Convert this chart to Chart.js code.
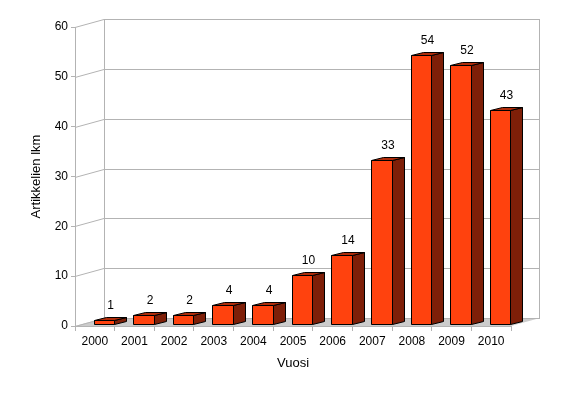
<!DOCTYPE html>
<html>
<head>
<meta charset="utf-8">
<script src="https://cdn.jsdelivr.net/npm/chart.js@4"></script>
<style>
    html, body { margin: 0; padding: 0; background: #fff; }
    #wrap { width: 563px; height: 396px; }
</style>
</head>
<body>
<div id="wrap"><canvas id="articleChart" width="563" height="396"></canvas></div>
<script>
const years = ['2000', '2001', '2002', '2003', '2004', '2005', '2006', '2007', '2008', '2009', '2010'];
const articles = [1, 2, 2, 4, 4, 10, 14, 33, 54, 52, 43];
const yMin = 0;
const yMax = 60;
const yStep = 10;

// depth of the 3d box (walls) and of the bars
const WALL_DX = 29, WALL_DY = -8;
const BAR_SHIFT_X = 9, BAR_SHIFT_Y = -1.5;
const BAR_DX = 12, BAR_DY = -3;
const GRID = '#b3b3b3';
const FONT = 'Liberation Sans, Arial, sans-serif';

function quad(ctx, pts, fill) {
    ctx.beginPath();
    ctx.moveTo(pts[0][0], pts[0][1]);
    for (let i = 1; i < pts.length; i++) ctx.lineTo(pts[i][0], pts[i][1]);
    ctx.closePath();
    ctx.fillStyle = fill;
    ctx.fill();
    ctx.stroke();
}

const box3d = {
    id: 'box3d',
    beforeDatasetsDraw(chart) {
        const { ctx, chartArea: a, scales } = chart;
        const y = scales.y;
        ctx.save();
        ctx.lineWidth = 1;

        // floor
        ctx.fillStyle = '#cccccc';
        ctx.beginPath();
        ctx.moveTo(a.left, a.bottom);
        ctx.lineTo(a.right, a.bottom);
        ctx.lineTo(a.right + WALL_DX, a.bottom + WALL_DY);
        ctx.lineTo(a.left + WALL_DX, a.bottom + WALL_DY);
        ctx.closePath();
        ctx.fill();

        ctx.strokeStyle = GRID;
        ctx.beginPath();
        // wall edges
        ctx.moveTo(a.left + WALL_DX + 0.5, a.top + WALL_DY);
        ctx.lineTo(a.left + WALL_DX + 0.5, a.bottom + WALL_DY);
        ctx.moveTo(a.right + WALL_DX - 0.5, a.top + WALL_DY);
        ctx.lineTo(a.right + WALL_DX - 0.5, a.bottom + WALL_DY);
        // grid on the side wall and back wall
        for (let v = yMin; v <= yMax; v += yStep) {
            const py = Math.round(y.getPixelForValue(v)) + 0.5;
            ctx.moveTo(a.left, py);
            ctx.lineTo(a.left + WALL_DX, py + WALL_DY);
            ctx.lineTo(a.right + WALL_DX, py + WALL_DY);
        }
        ctx.stroke();
        ctx.restore();
    },
    afterDatasetsDraw(chart) {
        const { ctx } = chart;
        const meta = chart.getDatasetMeta(0);
        ctx.save();
        ctx.lineWidth = 1;
        ctx.strokeStyle = '#000';
        ctx.lineJoin = 'miter';
        meta.data.forEach((bar, i) => {
            const x1 = Math.round(bar.x - bar.width / 2 + BAR_SHIFT_X) + 0.5;
            const x2 = Math.round(bar.x + bar.width / 2 + BAR_SHIFT_X) + 0.5;
            const top = Math.round(bar.y + BAR_SHIFT_Y) + 0.5;
            const base = Math.round(bar.base + BAR_SHIFT_Y) + 0.5;
            // side
            quad(ctx, [[x2, base], [x2, top], [x2 + BAR_DX, top + BAR_DY], [x2 + BAR_DX, base + BAR_DY]], '#7e1f08');
            // top
            quad(ctx, [[x1, top], [x2, top], [x2 + BAR_DX, top + BAR_DY], [x1 + BAR_DX, top + BAR_DY]], '#b02c0a');
            // front
            quad(ctx, [[x1, top], [x2, top], [x2, base], [x1, base]], '#ff420e');

            ctx.fillStyle = '#000';
            ctx.font = '12px ' + FONT;
            ctx.textAlign = 'center';
            ctx.textBaseline = 'middle';
            ctx.fillText(String(articles[i]), (x1 + x2 + BAR_DX) / 2, top - 15);
        });
        ctx.restore();
    }
};

const ctx = document.getElementById('articleChart').getContext('2d');
new Chart(ctx, {
    type: 'bar',
    data: {
        labels: years,
        datasets: [{
            label: 'Artikkelien lkm',
            data: articles,
            backgroundColor: 'rgba(0,0,0,0)',
            borderWidth: 0,
            categoryPercentage: 1,
            barPercentage: 0.52
        }]
    },
    options: {
        responsive: false,
        animation: false,
        layout: { padding: { left: 0, right: 52, top: 27, bottom: 0 } },
        plugins: {
            legend: { display: false },
            tooltip: { enabled: false }
        },
        scales: {
            x: {
                grid: { drawOnChartArea: false, tickLength: 5, color: GRID, offset: true },
                border: { color: GRID },
                ticks: { color: '#000', font: { family: FONT, size: 12 }, padding: 3, maxRotation: 0 },
                title: { display: true, text: 'Vuosi', color: '#000', font: { family: FONT, size: 13 }, padding: { top: 0, bottom: 25 } },
                afterFit: (scale) => { scale.height = 70; }
            },
            y: {
                min: yMin,
                max: yMax,
                grid: { drawOnChartArea: false, tickLength: 4, color: GRID },
                border: { color: GRID },
                ticks: { stepSize: yStep, color: '#000', font: { family: FONT, size: 12 }, padding: 3 },
                title: { display: true, text: 'Artikkelien lkm', color: '#000', font: { family: FONT, size: 13 }, padding: { top: 29, bottom: 0 } },
                afterFit: (scale) => { scale.width = 75; }
            }
        }
    },
    plugins: [box3d]
});
</script>
</body>
</html>
